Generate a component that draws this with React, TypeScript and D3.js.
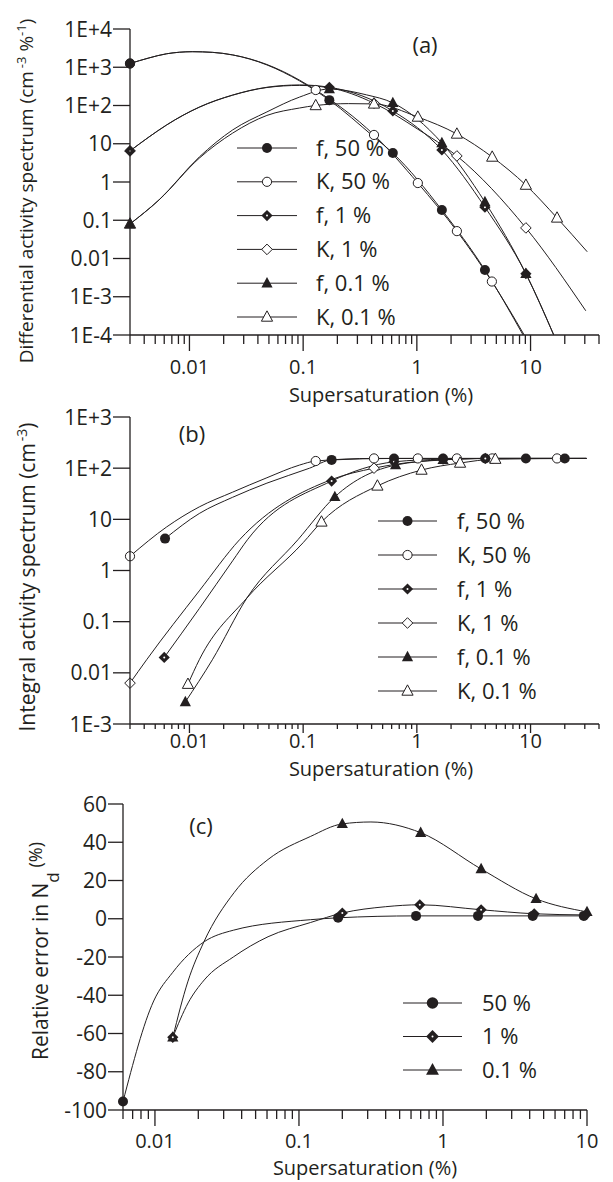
import React from 'react';
import * as d3 from 'd3';

type P = [number, number];

// ---------- Panel (a): differential activity spectrum (supersaturation %, value) ----------
const aF50Curve: P[] = [[0.003,1250],[0.0044,1750],[0.0063,2250],[0.0106,2550],[0.016,2450],[0.024,2100],[0.048,1150],[0.093,440],[0.17,138],[0.42,15],[0.615,5.7],[1.66,0.185],[3.97,0.005],[8.6,0.0001]];
const aF50Marks: P[] = [[0.003,1250],[0.17,138],[0.615,5.7],[1.66,0.185],[3.97,0.005]];
const aK50Curve: P[] = [[0.003,1250],[0.0044,1750],[0.0063,2250],[0.0106,2550],[0.016,2450],[0.024,2100],[0.048,1180],[0.093,460],[0.129,254],[0.42,17],[1.02,0.94],[2.25,0.052],[4.57,0.0025],[8.8,0.0001]];
const aK50Marks: P[] = [[0.003,1250],[0.129,254],[0.42,17],[1.02,0.94],[2.25,0.052],[4.57,0.0025]];
const aF1Curve: P[] = [[0.003,6.5],[0.0044,15],[0.0063,31],[0.0122,91],[0.024,188],[0.048,300],[0.093,345],[0.17,300],[0.615,72],[1.66,6.9],[3.97,0.22],[9.1,0.004],[16,0.0001]];
const aF1Marks: P[] = [[0.003,6.5],[0.17,300],[0.615,72],[1.66,6.9],[3.97,0.22],[9.1,0.004]];
const aK1Curve: P[] = [[0.003,6.5],[0.0044,15],[0.0063,31],[0.0122,90],[0.024,186],[0.048,295],[0.093,335],[0.17,290],[0.42,115],[1.02,24],[2.25,4.8],[9.1,0.063],[30.6,0.00043]];
const aK1Marks: P[] = [[0.003,6.5],[0.42,115],[2.25,4.8],[9.1,0.063]];
const aF01Curve: P[] = [[0.003,0.08],[0.0054,0.34],[0.0122,4.5],[0.024,23],[0.048,68],[0.093,166],[0.17,270],[0.36,190],[0.615,117],[1.66,10.5],[3.97,0.3],[9.1,0.004],[16,0.0001]];
const aF01Marks: P[] = [[0.003,0.08],[0.17,270],[0.615,117],[1.66,10.5],[3.97,0.3],[9.1,0.004]];
const aK01Curve: P[] = [[0.003,0.08],[0.0054,0.34],[0.0122,4.2],[0.024,19],[0.048,55],[0.093,86],[0.129,100],[0.25,112],[0.42,110],[1.02,50],[2.25,18],[4.6,4.5],[9.1,0.83],[17.1,0.115],[31.5,0.015]];
const aK01Marks: P[] = [[0.003,0.08],[0.129,100],[0.42,110],[1.02,50],[2.25,18],[4.6,4.5],[9.1,0.83],[17.1,0.115]];

// ---------- Panel (b): integral activity spectrum ----------
const bF50Curve: P[] = [[0.0061,4.2],[0.0122,13],[0.024,27],[0.048,51],[0.114,100],[0.178,145],[0.63,155],[1.7,155],[4,155],[9.1,155],[20,155],[31,155]];
const bF50Marks: P[] = [[0.0061,4.2],[0.178,145],[0.63,155],[1.7,155],[4,155],[9.1,155],[20,155]];
const bK50Curve: P[] = [[0.003,1.9],[0.0063,7.1],[0.0122,17.5],[0.024,34],[0.048,65],[0.093,115],[0.129,138],[0.42,155],[1.02,155],[2.25,155],[4.6,155],[17.1,155],[31,155]];
const bK50Marks: P[] = [[0.003,1.9],[0.129,138],[0.42,155],[1.02,155],[2.25,155],[4.6,155],[17.1,155]];
const bF1Curve: P[] = [[0.006,0.02],[0.0122,0.18],[0.024,1.55],[0.0324,4],[0.178,56],[0.63,133],[1.7,150],[4,155],[9.1,155],[20,155],[31,155]];
const bF1Marks: P[] = [[0.006,0.02],[0.178,56],[0.63,133],[1.7,150],[4,155]];
const bK1Curve: P[] = [[0.003,0.0063],[0.0042,0.018],[0.0122,0.4],[0.0276,4],[0.178,60],[0.42,100],[1.02,135],[2.25,150],[4.6,155],[31,155]];
const bK1Marks: P[] = [[0.003,0.0063],[0.42,100]];
const bF01Curve: P[] = [[0.0092,0.0027],[0.0159,0.018],[0.032,0.29],[0.09,4],[0.19,27.5],[0.65,115],[1.7,145],[4,155],[9.1,155],[20,155],[31,155]];
const bF01Marks: P[] = [[0.0092,0.0027],[0.19,27.5],[0.65,115],[1.7,145]];
const bK01Curve: P[] = [[0.0097,0.006],[0.0122,0.018],[0.032,0.29],[0.1,3.5],[0.145,8.9],[0.45,45],[1.1,92],[2.4,126],[4.9,150],[31,155]];
const bK01Marks: P[] = [[0.0097,0.006],[0.145,8.9],[0.45,45],[1.1,92],[2.4,126],[4.9,150]];

// ---------- Panel (c): relative error in Nd ----------
const c50Curve: P[] = [[0.006,-95.6],[0.0098,-43],[0.0133,-28],[0.022,-12],[0.035,-6],[0.12,-0.5],[0.187,0.5],[0.65,1.5],[1.75,1.5],[4.2,1.5],[10,1.5]];
const c50Marks: P[] = [[0.006,-95.6],[0.187,0.5],[0.65,1.5],[1.75,1.5],[4.2,1.5],[9.5,1.5]];
const c1Curve: P[] = [[0.0133,-62],[0.017,-44],[0.022,-32],[0.035,-20],[0.061,-9.4],[0.12,-2],[0.2,3],[0.4,6.3],[0.69,7.3],[1.84,4.7],[4.3,2.6],[9.8,2]];
const c1Marks: P[] = [[0.0133,-62],[0.2,3],[0.69,7.3],[1.84,4.7],[4.3,2.6],[9.8,2]];
const c01Curve: P[] = [[0.0133,-62],[0.0169,-33],[0.0219,-12],[0.0354,13.6],[0.061,31],[0.12,43],[0.2,49.6],[0.316,50.6],[0.7,45],[1.84,26],[4.43,10.4],[10,3.6]];
const c01Marks: P[] = [[0.0133,-62],[0.2,49.6],[0.7,45],[1.84,26],[4.43,10.4],[10,3.6]];

// ---------- ticks & legends ----------
const yTicksA: [number, string][] = [[1e-4,'1E-4'],[1e-3,'1E-3'],[0.01,'0.01'],[0.1,'0.1'],[1,'1'],[10,'10'],[100,'1E+2'],[1000,'1E+3'],[10000,'1E+4']];
const yTicksB: [number, string][] = [[1e-3,'1E-3'],[0.01,'0.01'],[0.1,'0.1'],[1,'1'],[10,'10'],[100,'1E+2'],[1000,'1E+3']];
const yTicksC: number[] = [-100,-80,-60,-40,-20,0,20,40,60];
const xLabels: [number, string][] = [[0.01,'0.01'],[0.1,'0.1'],[1,'1'],[10,'10']];
const legendAB: string[] = ['f, 50 %','K, 50 %','f, 1 %','K, 1 %','f, 0.1 %','K, 0.1 %'];
const legendC: string[] = ['50 %','1 %','0.1 %'];

const INK = '#231f20';
const FONT = "'Open Sans', 'Noto Sans', sans-serif";

type Kind = 'fc' | 'oc' | 'fd' | 'od' | 'ft' | 'ot';

const seriesA = [
  { curve: aK50Curve, marks: aK50Marks, kind: 'oc' as Kind },
  { curve: aK1Curve, marks: aK1Marks, kind: 'od' as Kind },
  { curve: aK01Curve, marks: aK01Marks, kind: 'ot' as Kind },
  { curve: aF50Curve, marks: aF50Marks, kind: 'fc' as Kind },
  { curve: aF1Curve, marks: aF1Marks, kind: 'fd' as Kind },
  { curve: aF01Curve, marks: aF01Marks, kind: 'ft' as Kind },
];
const seriesB = [
  { curve: bK50Curve, marks: bK50Marks, kind: 'oc' as Kind },
  { curve: bK1Curve, marks: bK1Marks, kind: 'od' as Kind },
  { curve: bK01Curve, marks: bK01Marks, kind: 'ot' as Kind },
  { curve: bF50Curve, marks: bF50Marks, kind: 'fc' as Kind },
  { curve: bF1Curve, marks: bF1Marks, kind: 'fd' as Kind },
  { curve: bF01Curve, marks: bF01Marks, kind: 'ft' as Kind },
];
const seriesC = [
  { curve: c01Curve, marks: c01Marks, kind: 'ft' as Kind },
  { curve: c1Curve, marks: c1Marks, kind: 'fd' as Kind },
  { curve: c50Curve, marks: c50Marks, kind: 'fc' as Kind },
];
const legendKindsAB: Kind[] = ['fc','oc','fd','od','ft','ot'];
const legendKindsC: Kind[] = ['fc','fd','ft'];

const xA = d3.scaleLog().domain([0.003, 40]).range([130, 599]);
const yA = d3.scaleLog().domain([1e-4, 1e4]).range([335, 29]);
const xB = d3.scaleLog().domain([0.003, 40]).range([130, 599]);
const yB = d3.scaleLog().domain([1e-3, 1e3]).range([724, 417]);
const xC = d3.scaleLog().domain([0.006, 10]).range([123, 587]);
const yC = d3.scaleLinear().domain([-100, 60]).range([1110, 804]);

const diamondPath = (x: number, y: number, r: number) => `M${x},${y - r}L${x + r},${y}L${x},${y + r}L${x - r},${y}Z`;
const triPath = (x: number, y: number, r: number) => `M${x},${y - r * 1.1}L${x + r},${y + r * 0.75}L${x - r},${y + r * 0.75}Z`;

function Marker({ kind, x, y, s = 1 }: { kind: Kind; x: number; y: number; s?: number }) {
  switch (kind) {
    case 'fc': return <circle cx={x} cy={y} r={5 * s} fill={INK} />;
    case 'oc': return <circle cx={x} cy={y} r={4.6 * s} fill="#fff" stroke={INK} strokeWidth={1} />;
    case 'fd': return <g><path d={diamondPath(x, y, 5.6 * s)} fill={INK} /><circle cx={x} cy={y} r={1} fill="#fff" /></g>;
    case 'od': return <path d={diamondPath(x, y, 5.3 * s)} fill="#fff" stroke={INK} strokeWidth={1} />;
    case 'ft': return <path d={triPath(x, y, 5.6 * s)} fill={INK} />;
    case 'ot': return <path d={triPath(x, y, 5.6 * s)} fill="#fff" stroke={INK} strokeWidth={1} />;
  }
  return null;
}

const isMajor = (t: number) => Math.abs(Math.log10(t) - Math.round(Math.log10(t))) < 1e-6;

function LogXAxis({ scale, y, labelY, majorLen = 16, minorLen = 9 }: { scale: any; y: number; labelY: number; majorLen?: number; minorLen?: number }) {
  const [r0, r1] = scale.range();
  return (
    <g>
      <line x1={r0} x2={r1} y1={y} y2={y} stroke={INK} strokeWidth={1.3} />
      {scale.ticks().map((t: number, i: number) => (
        <line key={i} x1={scale(t)} x2={scale(t)} y1={y} y2={y + (isMajor(t) ? majorLen : minorLen)} stroke={INK} strokeWidth={1.3} />
      ))}
      {xLabels.map(([v, l]) => (
        <text key={l} x={scale(v)} y={labelY} textAnchor="middle" fontSize={20} fontFamily={FONT} fill={INK}>{l}</text>
      ))}
    </g>
  );
}

function YAxis({ ticks, scale, x }: { ticks: [number, string][]; scale: any; x: number }) {
  const [r0, r1] = scale.range();
  return (
    <g>
      <line x1={x} x2={x} y1={r0} y2={r1} stroke={INK} strokeWidth={1.3} />
      {ticks.map(([v, l]) => (
        <g key={l}>
          <line x1={x - 17} x2={x} y1={scale(v)} y2={scale(v)} stroke={INK} strokeWidth={1.3} />
          <text x={x - 18} y={scale(v) + 7.5} textAnchor="end" fontSize={21} fontFamily={FONT} fill={INK}>{l}</text>
        </g>
      ))}
    </g>
  );
}

function Series({ list, xs, ys, clipId }: { list: { curve: P[]; marks: P[]; kind: Kind }[]; xs: any; ys: any; clipId: string }) {
  const line = d3.line<P>().x(d => xs(d[0])).y(d => ys(d[1])).curve(d3.curveMonotoneX);
  return (
    <g>
      <g clipPath={`url(#${clipId})`}>
        {list.map((s, i) => (
          <path key={i} d={line(s.curve) || ''} fill="none" stroke={INK} strokeWidth={1} />
        ))}
      </g>
      {list.map((s, i) => (
        <g key={'m' + i}>
          {s.marks.map((d, j) => <Marker key={j} kind={s.kind} x={xs(d[0])} y={ys(d[1])} />)}
        </g>
      ))}
    </g>
  );
}

function Legend({ labels, kinds, x0, x1, tx, rowY, step }: { labels: string[]; kinds: Kind[]; x0: number; x1: number; tx: number; rowY: number; step: number }) {
  return (
    <g>
      {labels.map((l, i) => {
        const y = rowY + i * step;
        return (
          <g key={l}>
            <line x1={x0} x2={x1} y1={y} y2={y} stroke={INK} strokeWidth={1} />
            <Marker kind={kinds[i]} x={(x0 + x1) / 2} y={y} s={kinds.length === 3 ? 1.15 : 1} />
            <text x={tx} y={y + 7.5} fontSize={22} fontFamily={FONT} fill={INK}>{l}</text>
          </g>
        );
      })}
    </g>
  );
}

export default function App() {
  return (
    <svg width={613} height={1182} style={{ position: 'absolute', left: 0, top: 0, background: '#fff' }} xmlns="http://www.w3.org/2000/svg">
      <defs>
        <clipPath id="clipA"><rect x={130} y={0} width={470} height={335} /></clipPath>
        <clipPath id="clipB"><rect x={130} y={400} width={470} height={324} /></clipPath>
        <clipPath id="clipC"><rect x={123} y={790} width={466} height={320} /></clipPath>
      </defs>
      <rect x={0} y={0} width={613} height={1182} fill="#fff" />

      {/* ---------- (a) ---------- */}
      <Series list={seriesA} xs={xA} ys={yA} clipId="clipA" />
      <YAxis ticks={yTicksA} scale={yA} x={130} />
      <LogXAxis scale={xA} y={335} labelY={374} />
      <text x={381} y={402} textAnchor="middle" fontSize={20} fontFamily={FONT} fill={INK}>Supersaturation (%)</text>
      <text x={425} y={53} textAnchor="middle" fontSize={22} fontFamily={FONT} fill={INK}>(a)</text>
      <text transform="translate(33,191) rotate(-90)" textAnchor="middle" fontSize={19} fontFamily={FONT} fill={INK}>
        Differential activity spectrum (cm<tspan dx={3} dy={-7} fontSize={13}>-3</tspan><tspan dy={7}> %</tspan><tspan dy={-7} fontSize={13}>-1</tspan><tspan dy={7}>)</tspan>
      </text>
      <Legend labels={legendAB} kinds={legendKindsAB} x0={237} x1={297} tx={316} rowY={148} step={33.8} />

      {/* ---------- (b) ---------- */}
      <Series list={seriesB} xs={xB} ys={yB} clipId="clipB" />
      <YAxis ticks={yTicksB} scale={yB} x={130} />
      <LogXAxis scale={xB} y={724} labelY={748} majorLen={9} minorLen={5} />
      <text x={381} y={776} textAnchor="middle" fontSize={20} fontFamily={FONT} fill={INK}>Supersaturation (%)</text>
      <text x={192} y={442} textAnchor="middle" fontSize={22} fontFamily={FONT} fill={INK}>(b)</text>
      <text transform="translate(35,577) rotate(-90)" textAnchor="middle" fontSize={21} fontFamily={FONT} fill={INK}>
        Integral activity spectrum (cm<tspan dx={2} dy={-8} fontSize={14}>-3</tspan><tspan dy={8}>)</tspan>
      </text>
      <Legend labels={legendAB} kinds={legendKindsAB} x0={378} x1={437} tx={457} rowY={521} step={34} />

      {/* ---------- (c) ---------- */}
      <Series list={seriesC} xs={xC} ys={yC} clipId="clipC" />
      <g>
        <line x1={123} x2={123} y1={yC(-100)} y2={yC(60)} stroke={INK} strokeWidth={1.3} />
        {yTicksC.map(v => (
          <g key={v}>
            <line x1={108} x2={123} y1={yC(v)} y2={yC(v)} stroke={INK} strokeWidth={1.3} />
            <text x={107} y={yC(v) + 7.5} textAnchor="end" fontSize={21} fontFamily={FONT} fill={INK}>{v}</text>
          </g>
        ))}
      </g>
      <LogXAxis scale={xC} y={1110} labelY={1148} />
      <text x={365} y={1175} textAnchor="middle" fontSize={20} fontFamily={FONT} fill={INK}>Supersaturation (%)</text>
      <text x={201} y={834} textAnchor="middle" fontSize={22} fontFamily={FONT} fill={INK}>(c)</text>
      <text transform="translate(48,951) rotate(-90)" textAnchor="middle" fontSize={21} fontFamily={FONT} fill={INK}>
        Relative error in N<tspan dy={11} fontSize={17}>d</tspan><tspan dy={-17} fontSize={18}> (%)</tspan>
      </text>
      <Legend labels={legendC} kinds={legendKindsC} x0={403} x1={462} tx={482} rowY={1003} step={33.5} />
    </svg>
  );
}
